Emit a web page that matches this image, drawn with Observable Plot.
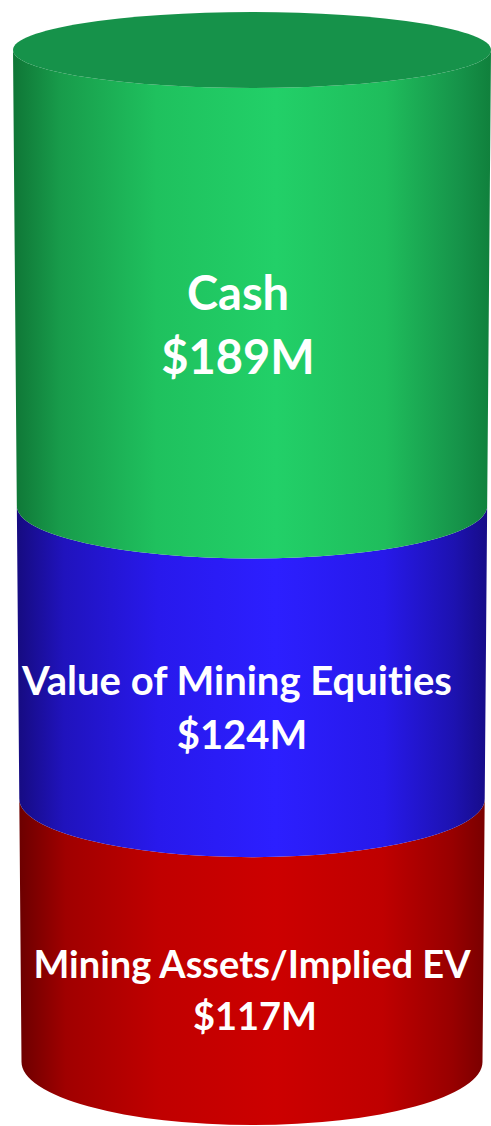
<!DOCTYPE html>
<html><head><meta charset="utf-8">
<script src="https://cdn.jsdelivr.net/npm/d3@7"></script>
<script src="https://cdn.jsdelivr.net/npm/@observablehq/plot@0.6"></script>
<style>html,body{margin:0;padding:0;background:#fff}svg{display:block}</style>
</head><body><div id="chart"></div>
<script>
// ---- data (bottom to top) ----
const categories = ["Mining Assets/Implied EV", "Value of Mining Equities", "Cash"];
const values = [117, 124, 189];
const valueLabels = ["$117M", "$124M", "$189M"];

// ---- styles ----
const gradients = [
  ["#6c0000", "#a00000", "#c00000", "#cc0000", "#bf0000", "#980000", "#7a0000"],
  ["#160b80", "#2013bd", "#2819ec", "#2c1fff", "#2719ea", "#1d12b0", "#170c88"],
  ["#0f7636", "#189c4b", "#1fc15e", "#22d068", "#1fbd5c", "#16944a", "#10803c"]
];
const stopOffsets = [0, 0.1, 0.3, 0.55, 0.78, 0.93, 1];
const capColor = "#16924a";
const fontSizes = [38, 40, 47];
const lineDx = [[0, 3], [-15, -10], [-14, -14]];

const data = categories.map((c, i) => ({category: c, value: values[i], label: valueLabels[i]}));
const total = d3.sum(values);

function cylinder(index, scales, V, dims, context) {
  const ns = "http://www.w3.org/2000/svg";
  const g = d3.select(context.document.createElementNS(ns, "g"));
  const yTop = scales.y(total), yBot = scales.y(0);
  const xl = scales.x(0), xr = scales.x(1);
  const cx = (xl + xr) / 2, rx0 = (xr - xl) / 2;
  const tOf = y => (y - yTop) / (yBot - yTop);
  const rx = y => rx0 * (1 - 0.0356 * tOf(y));
  const ry = y => 38 + 25 * Math.pow(Math.max(0, tOf(y)), 0.7);

  const defs = g.append("defs");
  gradients.forEach((cols, k) => {
    const lg = defs.append("linearGradient").attr("id", "cylg" + k)
      .attr("x1", 0).attr("x2", 1).attr("y1", 0).attr("y2", 0);
    cols.forEach((c, j) => lg.append("stop").attr("offset", stopOffsets[j]).attr("stop-color", c));
  });

  for (const i of index) {
    const yB = V.y1[i], yT = V.y2[i];
    const rT = rx(yT), rB = rx(yB), qT = ry(yT), qB = ry(yB);
    const p = `M${cx - rT},${yT} L${cx - rB},${yB} A${rB},${qB} 0 0 0 ${cx + rB},${yB} L${cx + rT},${yT} A${rT},${qT} 0 0 1 ${cx - rT},${yT} Z`;
    g.append("path").attr("d", p).attr("fill", `url(#cylg${i})`);
  }
  g.append("ellipse").attr("cx", cx).attr("cy", yTop).attr("rx", rx(yTop)).attr("ry", ry(yTop)).attr("fill", capColor);

  for (const i of index) {
    const yB = V.y1[i], yT = V.y2[i];
    const yc = (yT + ry(yT) + yB + ry(yB)) / 2;
    const fs = fontSizes[i];
    const spacing = 1.36 * fs;
    const b1 = yc - 13;
    [data[i].category, data[i].label].forEach((txt, j) => {
      g.append("text")
        .attr("x", cx + lineDx[i][j])
        .attr("y", b1 + j * spacing)
        .attr("text-anchor", "middle")
        .attr("fill", "#ffffff")
        .attr("font-family", "Lato, 'Open Sans', sans-serif")
        .attr("font-weight", 700)
        .attr("font-size", fs)
        .style("font-variant-ligatures", "none")
        .text(txt);
    });
  }
  return g.node();
}

const chart = Plot.plot({
  width: 491,
  height: 1126,
  margin: 0,
  x: {type: "linear", domain: [0, 1], range: [13, 491], axis: null},
  y: {type: "pow", exponent: 1.035, domain: [0, total], range: [1062, 50], axis: null},
  marks: [
    Plot.rectY(data, Plot.stackY({x1: d => 0, x2: d => 1, y: "value", render: cylinder}))
  ]
});
document.getElementById("chart").appendChild(chart);
</script>
</body></html>
